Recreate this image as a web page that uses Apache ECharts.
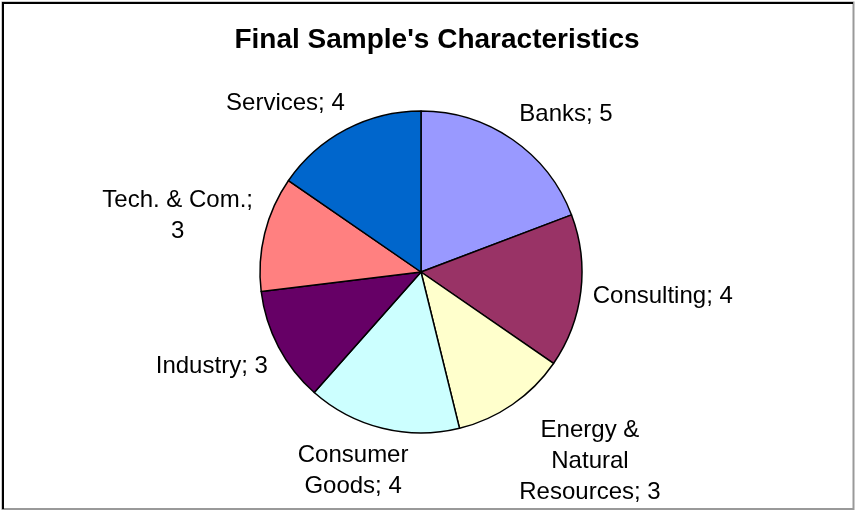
<!DOCTYPE html>
<html>
<head>
<meta charset="utf-8">
<title>Final Sample's Characteristics</title>
<script src="https://cdn.jsdelivr.net/npm/echarts@6/dist/echarts.min.js"></script>
<style>
  html, body { margin: 0; padding: 0; background: #fff; }
  #chart { width: 855px; height: 510px; }
</style>
</head>
<body>
<div id="chart"></div>
<script>
// sectors, clockwise from 12 o'clock
const sectors = ['Banks', 'Consulting', 'Energy & Natural Resources', 'Consumer Goods', 'Industry', 'Tech. & Com.', 'Services']
const counts = [5, 4, 3, 4, 3, 3, 4]
const sliceColors = ['#9999FF', '#993366', '#FFFFCC', '#CCFFFF', '#660066', '#FF8080', '#0066CC']

const CX = 421
const CY = 272
const R = 161
const LABEL_FONT = 24
const LABEL_GAP = 12

// wrap a label like Excel does (greedy, by words)
const measure = document.createElement('canvas').getContext('2d')
measure.font = LABEL_FONT + 'px "Liberation Sans"'
const wrapText = function (text, maxW) {
  const words = text.split(' ')
  const lines = []
  let cur = ''
  words.forEach(w => {
    const t = cur ? cur + ' ' + w : w
    if (cur && measure.measureText(t).width > maxW) {
      lines.push(cur)
      cur = w
    } else {
      cur = t
    }
  })
  lines.push(cur)
  return lines.join('\n')
}

const total = counts.reduce((a, b) => a + b, 0)
const midAngle = function (idx) {
  let before = 0
  for (let i = 0; i < idx; i++) before += counts[i]
  return (before + counts[idx] / 2) / total * Math.PI * 2
}
const clamp = v => Math.max(-1, Math.min(1, v))

const chart = echarts.init(document.getElementById('chart'), null, { renderer: 'canvas' })

const option = {
  animation: false,
  backgroundColor: '#fff',
  title: {
    text: "Final Sample's Characteristics",
    left: 432,
    top: 21,
    textAlign: 'center',
    textStyle: {
      fontFamily: 'Liberation Sans',
      fontSize: 28,
      fontWeight: 'bold',
      color: '#000'
    }
  },
  graphic: [
    {
      type: 'rect',
      shape: { x: 2.5, y: 2.5, width: 851, height: 506.5 },
      style: { fill: null, stroke: '#999', lineWidth: 2 },
      silent: true
    },
    {
      type: 'polyline',
      shape: { points: [[3, 509], [3, 3], [853, 3]] },
      style: { fill: null, stroke: '#000', lineWidth: 2 },
      silent: true
    }
  ],
  series: [
    {
      type: 'pie',
      center: [CX, CY],
      radius: R,
      startAngle: 90,
      clockwise: true,
      avoidLabelOverlap: false,
      silent: true,
      itemStyle: {
        borderColor: '#000',
        borderWidth: 1.5
      },
      label: {
        show: true,
        position: 'outside',
        fontFamily: 'Liberation Sans',
        fontSize: LABEL_FONT,
        lineHeight: 31,
        color: '#000',
        formatter: p => wrapText(p.name + '; ' + p.value, 165)
      },
      labelLine: { show: false },
      labelLayout: function (params) {
        const th = midAngle(params.dataIndex)
        const s = Math.sin(th)
        const c = Math.cos(th)
        const w = params.labelRect.width
        const h = params.labelRect.height
        const px = CX + (R + LABEL_GAP) * s
        const py = CY - (R + LABEL_GAP) * c
        return {
          x: px + clamp(s * 2) * w / 2,
          y: py - clamp(c * 2) * h / 2,
          align: 'center',
          verticalAlign: 'middle'
        }
      },
      data: sectors.map((name, i) => ({
        name: name,
        value: counts[i],
        itemStyle: { color: sliceColors[i] }
      }))
    }
  ]
}

chart.setOption(option)
</script>
</body>
</html>
